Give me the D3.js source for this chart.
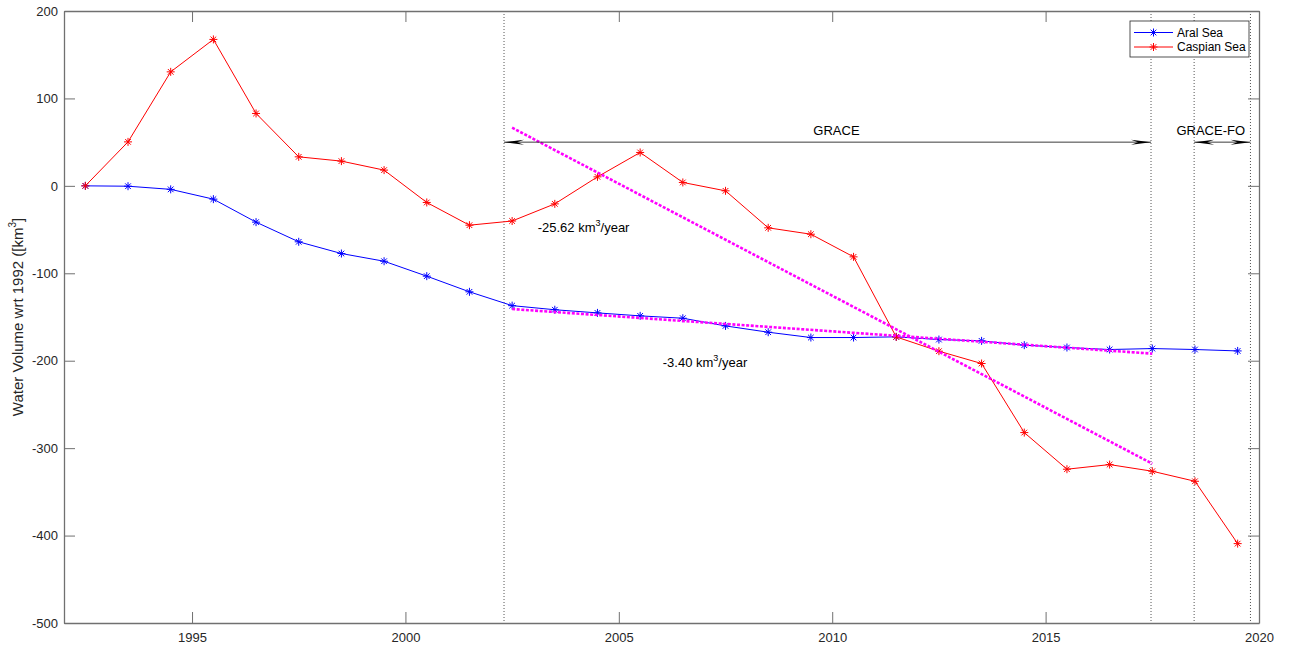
<!DOCTYPE html>
<html>
<head>
<meta charset="utf-8">
<script src="https://cdn.jsdelivr.net/npm/d3@7"></script>
<style>
  html, body { margin: 0; padding: 0; background: #fff; }
  svg { display: block; font-family: Arial, "Liberation Sans", sans-serif; }
</style>
</head>
<body>
<svg id="chart" width="1290" height="649"></svg>
<script>
// ---- data ----
const years = [1992.5,1993.5,1994.5,1995.5,1996.5,1997.5,1998.5,1999.5,2000.5,2001.5,2002.5,2003.5,2004.5,2005.5,2006.5,2007.5,2008.5,2009.5,2010.5,2011.5,2012.5,2013.5,2014.5,2015.5,2016.5,2017.5,2018.5,2019.5];
const aralSea = [0,-0.4,-4,-15.2,-41.5,-64,-77.4,-86.2,-103.3,-121.2,-137,-141.7,-145.3,-148.7,-151.4,-160.2,-167.4,-173.5,-173.5,-172.7,-175.8,-177.3,-182.2,-184.9,-187.2,-186.1,-187.2,-188.8];
const caspianSea = [0,50.3,130.4,167.5,82.8,33.2,28.3,18,-19,-45,-40.2,-20.6,10.3,38.2,3.9,-5.7,-48,-55.3,-81.2,-172.8,-189.1,-203.2,-282.2,-324.1,-318.8,-326.4,-337.9,-409.2];
const trendYears = [2002.5, 2017.5];
const caspianTrend = [66.5, -317.8];
const aralTrend = [-140.9, -191.9];
const missionBounds = [2002.31, 2017.47, 2018.48, 2019.8];
const graceSpan = [2002.31, 2017.47];
const graceFoSpan = [2018.48, 2019.8];
const arrowLevel = 50;
const xTicks = [1995, 2000, 2005, 2010, 2015, 2020];
const yTicks = [-500, -400, -300, -200, -100, 0, 100, 200];
const seriesNames = ["Aral Sea", "Caspian Sea"];
const seriesColors = ["#0000ff", "#ff0000"];

// ---- layout ----
const svg = d3.select("#chart");
const x = d3.scaleLinear().domain([1992, 2020]).range([64, 1259]);
const y = d3.scaleLinear().domain([-500, 200]).range([623, 11]);
const axisColor = "#707070";
const textColor = "#262626";
const tickLen = 11;

// plot background
svg.append("rect").attr("x", x(1992)).attr("y", y(200))
  .attr("width", x(2020) - x(1992)).attr("height", y(-500) - y(200)).attr("fill", "#fff");

// mission boundary dotted lines
svg.append("g").selectAll("line").data(missionBounds).join("line")
  .attr("x1", d => x(d)).attr("x2", d => x(d))
  .attr("y1", y(200)).attr("y2", y(-500))
  .attr("stroke", "#555").attr("stroke-width", 1).attr("stroke-dasharray", "1,2");

// axes (D3 axes, inward ticks)
const gx = svg.append("g").attr("transform", `translate(0,${y(-500)})`)
  .call(d3.axisBottom(x).tickValues(xTicks).tickFormat(d3.format("d")).tickSizeInner(-tickLen).tickSizeOuter(0).tickPadding(8));
const gxTop = svg.append("g").attr("transform", `translate(0,${y(200)})`)
  .call(d3.axisTop(x).tickValues(xTicks).tickFormat("").tickSizeInner(-tickLen).tickSizeOuter(0));
const gy = svg.append("g").attr("transform", `translate(${x(1992)},0)`)
  .call(d3.axisLeft(y).tickValues(yTicks).tickFormat(d3.format("d")).tickSizeInner(-tickLen).tickSizeOuter(0).tickPadding(6));
const gyR = svg.append("g").attr("transform", `translate(${x(2020)},0)`)
  .call(d3.axisRight(y).tickValues(yTicks).tickFormat("").tickSizeInner(-tickLen).tickSizeOuter(0));
[gx, gxTop, gy, gyR].forEach(g => {
  g.select(".domain").attr("stroke", axisColor).attr("stroke-width", 1.3);
  g.selectAll(".tick line").attr("stroke", axisColor).attr("stroke-width", 1);
  g.selectAll(".tick text").attr("fill", textColor).attr("font-size", 13)
    .attr("font-family", "Arial, 'Liberation Sans', sans-serif");
});
gy.selectAll(".tick text").text(d => d < 0 ? "-" + Math.abs(d) : d);
gx.selectAll(".tick text").attr("dy", "0.85em");

// y axis label
const yl = svg.append("text").attr("transform", `translate(23,${(y(200) + y(-500)) / 2}) rotate(-90)`)
  .attr("text-anchor", "middle").attr("fill", textColor).attr("font-size", 15);
yl.append("tspan").text("Water Volume wrt 1992 ([km");
yl.append("tspan").attr("font-size", 10).attr("dy", -7).text("3");
yl.append("tspan").attr("dy", 7).text("]");

// asterisk marker path
function asterisk(cx, cy, r) {
  const d = r * 0.7071;
  return `M${cx - r},${cy}L${cx + r},${cy}M${cx},${cy - r}L${cx},${cy + r}` +
         `M${cx - d},${cy - d}L${cx + d},${cy + d}M${cx - d},${cy + d}L${cx + d},${cy - d}`;
}

// series
const series = [aralSea, caspianSea];
const line = d3.line().x((d, i) => x(years[i])).y(d => y(d));
series.forEach((vals, k) => {
  svg.append("path").datum(vals).attr("d", line).attr("fill", "none")
    .attr("stroke", seriesColors[k]).attr("stroke-width", 1);
  svg.append("g").selectAll("path").data(vals).join("path")
    .attr("d", (d, i) => asterisk(x(years[i]), y(d), 4))
    .attr("stroke", seriesColors[k]).attr("stroke-width", 1).attr("fill", "none");
});

// trend lines
const tline = d3.line().x((d, i) => x(trendYears[i])).y(d => y(d));
[caspianTrend, aralTrend].forEach(t => {
  svg.append("path").datum(t).attr("d", tline).attr("fill", "none")
    .attr("stroke", "#ff00ff").attr("stroke-width", 2.6).attr("stroke-dasharray", "3,1.6");
});

// double arrows
function arrowHead(tipX, tipY, dir) {
  const L = 20, W = 2.5, N = 13;
  return `M${tipX},${tipY}L${tipX + dir * L},${tipY - W}L${tipX + dir * N},${tipY}L${tipX + dir * L},${tipY + W}Z`;
}
[graceSpan, graceFoSpan].forEach(s => {
  const ay = y(arrowLevel);
  svg.append("line").attr("x1", x(s[0])).attr("x2", x(s[1])).attr("y1", ay).attr("y2", ay)
    .attr("stroke", "#262626").attr("stroke-width", 0.9);
  svg.append("path").attr("d", arrowHead(x(s[0]), ay, 1)).attr("fill", "#000");
  svg.append("path").attr("d", arrowHead(x(s[1]), ay, -1)).attr("fill", "#000");
});
svg.append("text").attr("x", x(2010.1)).attr("y", y(arrowLevel) - 7).attr("text-anchor", "middle")
  .attr("font-size", 13).attr("fill", "#000").text("GRACE");
svg.append("text").attr("x", x(2018.87)).attr("y", y(arrowLevel) - 7).attr("text-anchor", "middle")
  .attr("font-size", 13).attr("fill", "#000").text("GRACE-FO");

// trend annotations
function rateLabel(xv, yPix, rate) {
  const t = svg.append("text").attr("x", x(xv)).attr("y", yPix).attr("font-size", 13).attr("fill", "#000");
  t.append("tspan").text(rate + " km");
  t.append("tspan").attr("font-size", 9).attr("dy", -6).text("3");
  t.append("tspan").attr("dy", 6).text("/year");
}
rateLabel(2003.1, 232, "-25.62");
rateLabel(2006.03, 367, "-3.40");

// legend
const lg = svg.append("g");
lg.append("rect").attr("x", 1130).attr("y", 21).attr("width", 119).attr("height", 36)
  .attr("fill", "#fff").attr("stroke", "#262626").attr("stroke-width", 0.8);
seriesNames.forEach((n, k) => {
  const ly = 32.5 + k * 14.5;
  lg.append("line").attr("x1", 1134).attr("x2", 1173).attr("y1", ly).attr("y2", ly)
    .attr("stroke", seriesColors[k]).attr("stroke-width", 1);
  lg.append("path").attr("d", asterisk(1153.5, ly, 4)).attr("stroke", seriesColors[k]).attr("stroke-width", 1);
  lg.append("text").attr("x", 1177).attr("y", ly + 4.3).attr("font-size", 12).attr("fill", "#000").text(n);
});
</script>
</body>
</html>
